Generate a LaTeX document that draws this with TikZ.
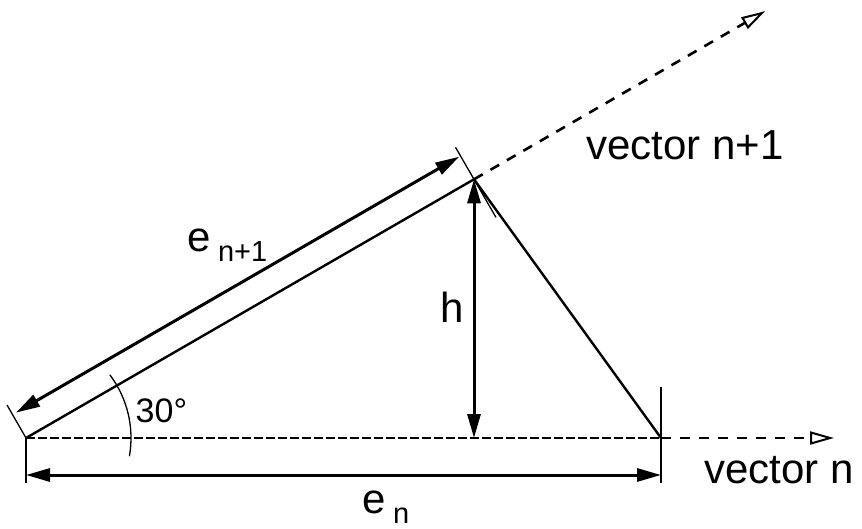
\documentclass[tikz,border=0pt]{standalone}
\usepackage{fontspec}
\setmainfont{Liberation Sans}
\usetikzlibrary{arrows.meta,calc}
\newcommand{\subsz}{\fontsize{29}{32}\selectfont}
\begin{document}
\begin{tikzpicture}[x=1pt,y=-1pt,
  lbl/.style={font=\fontsize{42}{48}\selectfont, inner sep=0pt, anchor=base west},
  anglbl/.style={font=\fontsize{34}{40}\selectfont, inner sep=0pt, anchor=base west},
  dimline/.style={line width=3pt, {Triangle[length=24pt,width=13pt]}-{Triangle[length=24pt,width=13pt]}},
  thinline/.style={line width=1.3pt},
  sideline/.style={line width=2.4pt},
  vecext/.style={line width=2.6pt, dash pattern=on 10pt off 9pt, -{Triangle[open,length=24pt,width=13pt,line width=2pt]}},
  baseline/.style={line width=2.4pt, dash pattern=on 9pt off 3pt}
]
\useasboundingbox (0,0) rectangle (862,529);
% main points
\coordinate (O) at (26,438);
\coordinate (T) at (474,179.3);
\coordinate (R) at (661,438);
\coordinate (Hb) at (474,438);
\coordinate (Xend) at (834,438);
\coordinate (Yend) at ($(O)!1.65!(T)$);
% dimension points
\coordinate (A1) at (16,412.6);
\coordinate (A2) at (459.2,156.7);
\coordinate (Lt) at (7,405);
\coordinate (Tt1) at (455.5,147.3);
\coordinate (Tt2) at (496,217.4);
\coordinate (Rt1) at (661,387);
\coordinate (Rt2) at (661,483);
\coordinate (Lb) at (26,483);
\coordinate (D1) at (26,475);
\coordinate (D2) at (661,475);

% triangle
\draw[sideline] (O) -- (T);
\draw[vecext] (T) -- (Yend);
\draw[sideline] (T) -- (R);
\draw[baseline] (O) -- (R);
\draw[vecext] (R) -- (Xend);

% height
\draw[dimline] (T) -- (Hb);

% dimension e_{n+1}
\draw[thinline] (O) -- (Lt);
\draw[thinline] (Tt1) -- (Tt2);
\draw[dimline] (A1) -- (A2);

% dimension e_n
\draw[thinline] (O) -- (Lb);
\draw[thinline] (Rt1) -- (Rt2);
\draw[dimline] (D1) -- (D2);

% angle arc
\draw[thinline] (O) ++(10:105) arc[start angle=10, end angle=-37, radius=105];

% labels
\node[lbl] (vn1) at (586,160) {vector n+1};
\node[lbl] (vn) at (704,483) {vector n};
\node[lbl] (h) at (440,323) {h};
\node[anglbl] (ang) at (135.5,422) {30°};
\node[lbl] (e1) at (187,252) {e\hspace{7.5pt}\raisebox{-10pt}{\subsz n+1}};
\node[lbl] (e0) at (362,513) {e\hspace{7.5pt}\raisebox{-10pt}{\subsz n}};
\end{tikzpicture}
\end{document}
